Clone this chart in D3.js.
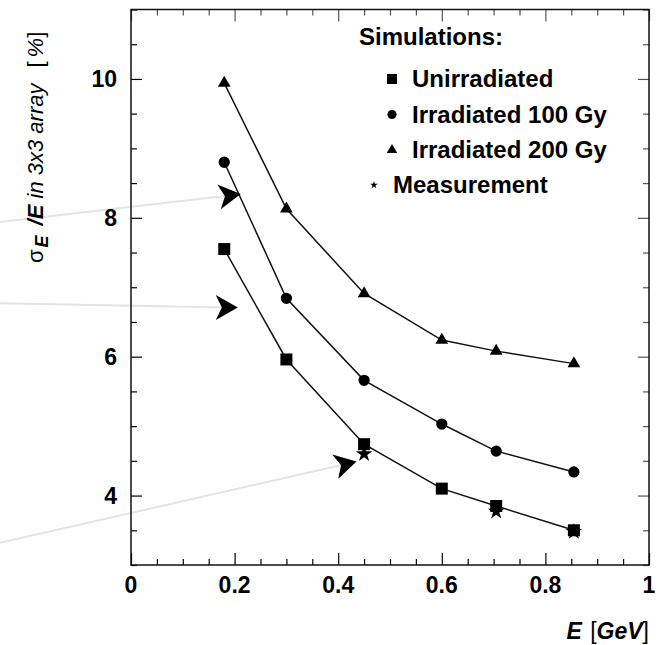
<!DOCTYPE html>
<html>
<head>
<script src="https://d3js.org/d3.v7.min.js"></script>
<style>
  body { margin: 0; background: #fff; overflow: hidden; }
  svg { display: block; }
  text { font-family: "Liberation Sans", Arial, sans-serif; fill: #000; }
</style>
</head>
<body>
<div id="chart"></div>
<script>
// energies [GeV]
let energy = [0.18, 0.30, 0.45, 0.60, 0.705, 0.855];
// sigma_E/E [%] for each simulation
let unirradiated = [7.55, 5.96, 4.74, 4.10, 3.85, 3.50];
let irradiated100 = [8.80, 6.84, 5.66, 5.03, 4.64, 4.34];
let irradiated200 = [9.94, 8.13, 6.91, 6.24, 6.08, 5.90];
// measurement points
let measEnergy = [0.45, 0.705, 0.855];
let measValue = [4.60, 3.77, 3.48];
// pointer arrows (tip of the faint guide lines), in axis units
let arrowX = [0.189, 0.183, 0.413];
let arrowY = [8.32, 6.71, 4.45];
let arrowAngle = [-8, 0, -14];
let guideStartX = [-0.253, -0.253, -0.253];
let guideStartY = [7.94, 6.77, 3.32];

let xTicks = [0, 0.2, 0.4, 0.6, 0.8, 1];
let xTickLabels = ["0", "0.2", "0.4", "0.6", "0.8", "1"];
let yTicks = [4, 6, 8, 10];
let legendLabels = ["Unirradiated", "Irradiated 100 Gy", "Irradiated 200 Gy"];

const W = 667, H = 645;
const plotL = 131, plotR = 649, plotT = 9.5, plotB = 565;

const svg = d3.select("#chart").append("svg")
    .attr("width", W).attr("height", H);

const x = d3.scaleLinear().domain([0, 1]).range([plotL, plotR]);
const y = d3.scaleLinear().domain([3, 11]).range([plotB, plotT]);

// faint guide lines with arrowheads
arrowX.forEach((ax, i) => {
    svg.append("line")
        .attr("x1", x(guideStartX[i])).attr("y1", y(guideStartY[i]))
        .attr("x2", x(ax)).attr("y2", y(arrowY[i]))
        .attr("stroke", "#e4e4e4").attr("stroke-width", 2);
});

// frame with ticks on every side
const xMinor = d3.range(0, 1.0001, 0.05);
const yMinor = d3.range(3, 11.0001, 0.5);
const isMajorX = v => Math.abs(v * 5 - Math.round(v * 5)) < 1e-6;
const isMajorY = v => Math.abs(v / 2 - Math.round(v / 2)) < 1e-6;

svg.append("g").attr("transform", `translate(0,${plotB})`)
    .call(d3.axisTop(x).tickValues(xMinor).tickFormat("").tickSizeOuter(0))
    .call(g => g.select(".domain").remove())
    .call(g => g.selectAll(".tick line").attr("y2", d => isMajorX(d) ? -12 : -6).attr("stroke-width", 1.2));
svg.append("g").attr("transform", `translate(0,${plotT})`)
    .call(d3.axisBottom(x).tickValues(xMinor).tickFormat("").tickSizeOuter(0))
    .call(g => g.select(".domain").remove())
    .call(g => g.selectAll(".tick line").attr("y2", d => isMajorX(d) ? 12 : 6).attr("stroke-width", 1.2).attr("stroke", "#555"));
svg.append("g").attr("transform", `translate(${plotL},0)`)
    .call(d3.axisRight(y).tickValues(yMinor).tickFormat("").tickSizeOuter(0))
    .call(g => g.select(".domain").remove())
    .call(g => g.selectAll(".tick line").attr("x2", d => isMajorY(d) ? 11 : 6).attr("stroke-width", 1.2));
svg.append("g").attr("transform", `translate(${plotR},0)`)
    .call(d3.axisLeft(y).tickValues(yMinor).tickFormat("").tickSizeOuter(0))
    .call(g => g.select(".domain").remove())
    .call(g => g.selectAll(".tick line").attr("x2", d => isMajorY(d) ? -11 : -6).attr("stroke-width", 1.2).attr("stroke", "#555"));

svg.append("rect")
    .attr("x", plotL).attr("y", plotT)
    .attr("width", plotR - plotL).attr("height", plotB - plotT)
    .attr("fill", "none").attr("stroke", "#111").attr("stroke-width", 1.5);

// tick labels
svg.selectAll(".xlab").data(xTicks).enter().append("text")
    .attr("x", d => x(d)).attr("y", 593)
    .attr("text-anchor", "middle")
    .style("font-size", "23px").style("font-weight", "bold")
    .text((d, i) => xTickLabels[i]);
svg.selectAll(".ylab").data(yTicks).enter().append("text")
    .attr("x", 117).attr("y", d => y(d) + 8)
    .attr("text-anchor", "end")
    .style("font-size", "23px").style("font-weight", "bold")
    .text(d => d);

// axis titles
const xt = svg.append("text").attr("x", 649).attr("y", 639)
    .attr("text-anchor", "end").style("font-size", "23px");
xt.append("tspan").text("E").style("font-weight", "bold").style("font-style", "italic");
xt.append("tspan").text(" [").attr("dx", 2);
xt.append("tspan").text("GeV").style("font-weight", "bold").style("font-style", "italic");
xt.append("tspan").text("]");

const yt = svg.append("text")
    .attr("transform", "rotate(-90)")
    .attr("x", -263).attr("y", 43)
    .style("font-size", "22px");
yt.append("tspan").text("σ");
yt.append("tspan").text("E").attr("dy", 5).attr("dx", 2).style("font-size", "18px")
    .style("font-weight", "bold").style("font-style", "italic");
yt.append("tspan").text("/E").attr("dy", -5).attr("dx", 10)
    .style("font-weight", "bold").style("font-style", "italic");
yt.append("tspan").text(" in 3x3 array").style("font-style", "italic");
yt.append("tspan").text("[").attr("dx", 16);
yt.append("tspan").text("%").attr("dx", 4).style("font-style", "italic");
yt.append("tspan").text("]");

// curves
const line = d3.line().x(d => x(d[0])).y(d => y(d[1]));
const series = [
    { vals: unirradiated, sym: d3.symbolSquare, size: 144, lsize: 100 },
    { vals: irradiated100, sym: d3.symbolCircle, size: 100, lsize: 64 },
    { vals: irradiated200, sym: d3.symbolTriangle, size: 70, lsize: 48 }
];

series.forEach(s => {
    let pts = energy.map((e, i) => [e, s.vals[i]]);
    svg.append("path").attr("d", line(pts))
        .attr("fill", "none").attr("stroke", "#111").attr("stroke-width", 1.5);
    svg.selectAll(null).data(pts).enter().append("path")
        .attr("d", d3.symbol().type(s.sym).size(s.size))
        .attr("transform", d => `translate(${x(d[0])},${y(d[1])})`)
        .attr("fill", "#000");
});

// measurement stars
svg.selectAll(".meas").data(measEnergy).enter().append("path")
    .attr("d", d3.symbol().type(d3.symbolStar).size(85))
    .attr("transform", (d, i) => `translate(${x(d)},${y(measValue[i])})`)
    .attr("fill", "#000");

// arrowheads
svg.selectAll(".arrow").data(arrowX).enter().append("path")
    .attr("d", "M12,0 L-10,-12.5 L-4,0 L-10,12.5 Z")
    .attr("transform", (d, i) => `translate(${x(d)},${y(arrowY[i])}) rotate(${arrowAngle[i]})`)
    .attr("fill", "#000");

// legend
svg.append("text").attr("x", 359).attr("y", 45)
    .style("font-size", "24px").style("font-weight", "bold")
    .text("Simulations:");
series.forEach((s, i) => {
    let ly = 87 + i * 35.5;
    svg.append("path")
        .attr("d", d3.symbol().type(s.sym).size(s.lsize))
        .attr("transform", `translate(392,${ly - 8})`)
        .attr("fill", "#000");
    svg.append("text").attr("x", 412).attr("y", ly)
        .style("font-size", "24px").style("font-weight", "bold")
        .text(legendLabels[i]);
});
svg.append("path")
    .attr("d", d3.symbol().type(d3.symbolStar).size(18))
    .attr("transform", `translate(374,${193 - 8})`)
    .attr("fill", "#000");
svg.append("text").attr("x", 393).attr("y", 193)
    .style("font-size", "24px").style("font-weight", "bold")
    .text("Measurement");
</script>
</body>
</html>
